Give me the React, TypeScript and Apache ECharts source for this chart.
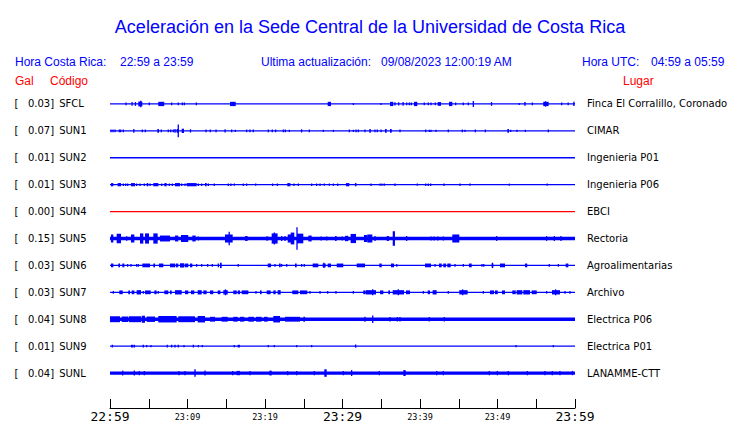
import React, { useEffect, useRef } from "react";
import * as echarts from "echarts";

// Station codes, peak acceleration (Gal) and site names
const codes = ["SFCL", "SUN1", "SUN2", "SUN3", "SUN4", "SUN5", "SUN6", "SUN7", "SUN8", "SUN9", "SUNL"];
const gal = ["0.03", "0.07", "0.01", "0.01", "0.00", "0.15", "0.03", "0.03", "0.04", "0.01", "0.04"];
const places = [
  "Finca El Corralillo, Coronado", "CIMAR", "Ingenieria P01", "Ingenieria P06", "EBCI", "Rectoria",
  "Agroalimentarias", "Archivo", "Electrica P06", "Electrica P01", "LANAMME-CTT",
];
// time ticks (minutes since 22:59)
const timeLabels = ["22:59", "23:04", "23:09", "23:14", "23:19", "23:24", "23:29", "23:34", "23:39", "23:44", "23:49", "23:54", "23:59"];
// background noise level per trace (trace units)
const noise = [0, 0, 0, 0, 0, 0.068, 0, 0, 0.062, 0, 0.062];

// Events: [start minute, end minute, half amplitude (trace units)]
const sfcl = [[2.06,2.06,.05],[2.8,2.9,.07],[3.23,3.33,.07],[3.65,4.17,.09],[3.97,3.97,.12],[5.07,5.07,.05],[6.23,7.0,.08],[7.96,7.96,.05],[8.81,8.81,.05],[9.33,9.33,.05],[9.59,9.59,.05],[11.14,11.14,.05],[15.48,16.22,.08],[28.09,28.52,.08],
[31.4,31.4,.04],[34.97,34.97,.04],[36.13,36.55,.08],[36.77,36.77,.06],[37.25,37.25,.06],[37.77,37.87,.07],[38.28,38.28,.05],[38.62,38.62,.05],[38.88,38.88,.05],[39.23,39.65,.08],[40.55,40.55,.05],[41.07,41.07,.05],[41.42,41.42,.05],[41.97,41.97,.05],[42.28,42.71,.07],[43.74,44.17,.08],[44.6,44.6,.05],[45.59,45.59,.05],[46.23,46.23,.05],[46.88,46.88,.11],[49.16,49.3,.07],[52.81,52.81,.04],[53.45,53.63,.07],[54.49,54.49,.05],[55.9,56.6,.08],[56.2,56.2,.1],[58.28,58.28,.05],[59.12,59.12,.05],[59.77,59.95,.08]];
const sun1 = [[0.13,0.13,.05],[0.39,0.39,.05],[0.65,0.65,.05],[1.2,1.2,.05],[1.38,1.38,.05],[1.72,1.72,.05],[3.0,3.15,.07],[4.17,4.17,.05],[4.56,4.56,.05],[6.11,6.32,.07],[6.62,6.62,.05],[7.52,7.52,.05],[7.83,7.83,.05],[8.17,8.17,.05],[8.39,8.39,.07],[8.6,8.9,.07],[8.81,8.81,.24],[9.25,9.55,.08],[10.32,10.45,.06],[12.39,12.39,.05],[12.94,12.94,.05],[13.68,13.68,.05],[14.8,14.9,.06],[15.7,15.7,.05],[16.17,16.17,.04],[17.63,17.63,.05],[18.06,18.06,.05],[18.49,18.49,.05],[20.43,20.43,.05],[20.94,20.94,.05],[21.38,21.38,.05],[22.37,22.37,.05],[22.62,22.62,.05],[23.14,23.14,.04],[24.65,24.8,.06],[25.72,25.72,.05],[27.52,27.52,.04],[28.82,28.82,.04],
[30.88,30.88,.05],[31.4,31.4,.04],[31.74,31.74,.05],[32.04,32.04,.05],[32.9,32.9,.05],[33.46,33.65,.07],[34.19,34.19,.05],[34.49,34.49,.05],[34.97,34.97,.05],[35.48,35.7,.07],[36.13,36.35,.07],[37.42,37.42,.05],[40.74,40.74,.05],[41.2,41.2,.04],[41.42,41.42,.04],[42.06,42.06,.04],[43.65,43.65,.05],[45.46,45.46,.05],[45.81,45.81,.04],[47.14,47.14,.05],[48.43,48.43,.05],[51.27,51.48,.07],[51.7,51.7,.04],[52.52,52.52,.04],[53.59,53.59,.04],[56.56,56.56,.05]];
const sun2: number[][] = [];
const sun3 = [[0.13,0.43,.06],[0.99,1.42,.06],[1.72,1.72,.045],[2.02,2.02,.045],[2.28,2.28,.045],[2.71,3.23,.06],[3.44,3.44,.045],[3.87,3.87,.045],[4.43,4.43,.045],[4.73,4.94,.06],[5.16,5.16,.045],[5.59,6.23,.06],[6.67,6.67,.045],[7.01,7.31,.06],[7.65,7.65,.045],[8.04,8.04,.045],[8.39,9.03,.06],[9.25,9.25,.045],[9.68,9.68,.045],[9.89,11.18,.06],[11.4,11.4,.045],[11.83,11.83,.045],[12.26,12.47,.06],[12.69,12.69,.045],[13.46,13.46,.045],[15.27,15.27,.045],[15.61,15.61,.045],[16.04,16.04,.04],[17.2,17.2,.045],[17.63,17.63,.045],[18.8,18.8,.04],[20.99,20.99,.045],[21.59,21.59,.045],[22.88,23.27,.06],[23.74,23.74,.045],[24.3,24.3,.045],[26.02,26.02,.045],[26.67,26.67,.045],[27.1,27.1,.045],[27.65,27.65,.04],[28.3,28.3,.04],[28.82,28.82,.045],[29.38,29.38,.045],
[30.45,30.88,.06],[31.6,31.8,.06],[33.68,33.68,.045],[34.84,34.84,.04],[35.1,35.1,.04],[35.39,35.39,.04],[36.77,36.77,.045],[39.65,39.65,.04],[40.74,40.74,.045],[41.07,41.07,.045],[41.38,41.38,.045],[43.1,43.1,.045],[45.16,45.16,.045],[46.45,46.45,.04],[51.53,51.53,.04],[56.41,56.41,.04]];
const sun4: number[][] = [];
const sun5 = [[0.13,0.43,.15],[0.86,1.42,.18],[2.15,2.15,.08],[2.71,3.14,.15],[3.87,4.3,.19],[4.52,5.03,.19],[5.59,6.15,.19],[6.45,7.74,.11],[8.39,8.81,.11],[9.16,10.1,.13],[10.62,11.06,.11],[11.4,11.4,.075],[14.84,15.83,.15],[15.38,15.38,.25],[17.42,17.77,.09],[20.13,20.43,.075],[20.86,21.63,.19],[21.2,21.2,.22],[22.15,22.15,.09],[22.58,22.58,.09],[22.93,23.45,.15],[23.32,23.78,.22],[24.13,24.13,.42],[24.13,24.94,.18],[25.59,26.02,.11],[27.23,27.23,.075],[27.96,27.96,.075],[29.03,29.25,.09],[29.97,29.97,.075],
[30.32,30.75,.1],[31.05,31.74,.17],[32.77,33.2,.13],[33.2,33.85,.15],[34.19,34.19,.09],[34.84,34.84,.055],[35.35,35.35,.055],[35.7,36.0,.09],[36.48,36.77,.27],[38.28,38.28,.09],[41.42,41.42,.075],[41.81,41.81,.075],[42.28,42.28,.075],[43.01,43.01,.075],[44.17,45.07,.15],[49.89,49.89,.09],[50.88,50.88,.055],[56.34,56.34,.09],[57.33,57.33,.09],[58.19,58.19,.09]];
const sun6 = [[0.13,0.43,.07],[1.07,1.29,.07],[1.59,1.85,.07],[2.28,2.28,.05],[2.71,2.71,.05],[3.44,3.44,.05],[3.66,3.66,.05],[4.17,5.16,.07],[5.59,5.81,.07],[6.32,6.88,.07],[7.74,8.39,.07],[8.48,8.81,.07],[9.03,9.59,.08],[9.68,10.1,.07],[10.32,10.62,.07],[11.18,11.18,.05],[11.83,11.83,.05],[12.6,12.6,.05],[13.2,13.2,.05],[13.9,14.06,.07],[14.19,14.41,.1],[16.55,16.55,.05],[20.35,20.77,.07],[21.29,21.29,.05],[21.81,22.02,.07],[22.15,22.15,.05],[22.8,22.8,.05],[23.87,24.09,.07],[24.73,24.73,.05],[25.07,25.07,.05],[26.15,26.88,.07],[27.44,27.83,.07],[27.6,27.6,.1],[28.09,28.52,.07],[29.25,30.1,.07],
[31.83,32.9,.07],[34.75,35.06,.07],[36.26,36.65,.07],[37.0,37.0,.05],[40.65,41.42,.07],[41.94,41.94,.05],[42.45,42.8,.07],[43.01,43.35,.07],[43.52,43.96,.07],[44.52,44.52,.05],[45.59,45.59,.05],[46.32,46.67,.07],[48.0,48.0,.05],[48.23,48.23,.05],[49.25,49.46,.07],[49.35,49.35,.1],[50.32,50.97,.07],[53.55,53.84,.07],[56.68,56.68,.05],[57.85,57.85,.05],[58.8,59.14,.07]];
const sun7 = [[0.43,0.43,.05],[1.2,1.64,.07],[2.36,2.58,.07],[2.8,3.14,.07],[3.44,4.0,.08],[4.3,4.3,.05],[4.52,5.25,.07],[5.72,6.02,.07],[6.23,6.23,.05],[7.01,7.52,.07],[7.74,7.96,.07],[8.39,9.25,.08],[9.68,10.1,.07],[10.45,10.88,.07],[11.31,11.83,.08],[12.04,12.47,.07],[12.9,13.33,.07],[13.9,14.24,.07],[14.62,15.19,.08],[14.9,14.9,.11],[15.91,16.35,.07],[16.48,16.77,.07],[16.99,17.85,.07],[18.84,18.84,.05],[19.35,19.57,.07],[20.22,20.73,.07],[21.07,21.38,.07],[21.63,22.02,.08],[23.52,24.3,.07],[24.52,25.46,.07],[25.81,25.81,.05],[27.1,27.1,.05],[28.09,28.09,.05],[29.16,29.16,.05],
[31.4,31.4,.05],[32.68,32.99,.07],[33.03,34.32,.08],[33.9,33.9,.11],[34.84,35.27,.07],[35.91,36.13,.07],[36.48,37.94,.08],[37.2,37.2,.11],[38.19,38.71,.07],[40.43,40.43,.05],[40.99,41.29,.07],[41.63,42.15,.08],[43.65,43.65,.05],[45.07,46.15,.08],[45.5,45.5,.11],[48.17,48.17,.05],[49.03,49.55,.07],[49.68,50.03,.07],[50.58,50.97,.07],[51.91,52.35,.07],[52.47,53.2,.08],[53.33,54.19,.08],[54.41,55.06,.07],[56.34,56.34,.05],[57.03,58.06,.08],[57.5,57.5,.11],[58.71,58.71,.05],[59.35,59.35,.05]];
const sun8 = [[0,1.29,.11],[1.51,2.36,.1],[2.45,4.0,.11],[4.09,4.52,.13],[4.73,5.81,.1],[6.23,8.6,.12],[8.81,10.97,.11],[11.31,12.26,.12],[12.9,13.55,.09],[14.41,15.19,.09],[15.91,16.48,.09],[16.77,17.33,.09],[17.85,18.58,.09],[18.84,19.57,.09],[19.87,20.35,.09],[21.07,21.94,.12],[22.58,24.52,.09],[24.95,25.16,.09],
[32.9,32.9,.09],[33.9,33.9,.14],[36.13,36.13,.08],[37.07,37.07,.08],[37.42,37.42,.08],[41.2,41.2,.08],[43.14,43.14,.08]];
const sun9 = [[0.3,0.3,.05],[2.71,3.0,.05],[3.14,3.14,.05],[4.3,4.3,.05],[4.73,4.73,.04],[5.29,5.29,.04],[7.39,7.39,.05],[7.96,7.96,.05],[8.39,8.39,.05],[8.81,8.81,.05],[9.55,9.55,.04],[10.75,10.75,.05],[11.4,11.4,.04],[11.91,11.91,.04],[16.04,16.04,.04],[16.47,16.77,.05],[20.43,20.43,.04],[21.2,21.2,.04],[24.09,24.09,.04],[26.02,26.02,.04],[31.7,31.7,.06],[52.4,52.4,.04],[57.2,57.2,.04]];
const sunl = [[1.63,1.63,.09],[3.14,3.14,.09],[3.78,3.78,.08],[4.43,4.43,.08],[8.9,8.9,.08],[9.68,9.68,.08],[10.88,11.06,.14],[12.26,12.26,.09],[15.83,15.83,.08],[16.34,16.77,.08],[18.06,18.06,.08],[20.56,20.86,.09],[22.93,22.93,.08],[24.09,24.09,.08],[26.36,26.36,.08],[27.65,27.96,.14],
[30.1,30.1,.08],[31.18,31.18,.11],[34.75,34.75,.08],[37.85,38.15,.11],[42.15,42.15,.08],[43.01,43.01,.08],[48.94,48.94,.08],[49.98,49.98,.08],[51.4,51.4,.08],[53.85,53.85,.08],[56.13,56.13,.08],[57.07,57.07,.08],[58.06,58.06,.08],[59.66,59.66,.08]];

const traces = [sfcl, sun1, sun2, sun3, sun4, sun5, sun6, sun7, sun8, sun9, sunl];

const BLUE = "#0000ff";
const RED = "#ff0000";
const HEAD_FONT = "'Liberation Sans', Arial, sans-serif";
const LABEL_FONT = "'DejaVu Sans', sans-serif";

export default function App() {
  const ref = useRef<HTMLDivElement>(null);
  useEffect(() => {
    if (!ref.current) return;
    const chart = echarts.init(ref.current, null, { renderer: "svg" });

    const series = traces.map((events, row) => ({
      type: "custom",
      coordinateSystem: "cartesian2d",
      xAxisIndex: 0,
      yAxisIndex: 2,
      silent: true,
      clip: false,
      data: [[0, 60, noise[row], row], ...events.map((e) => [e[0], e[1], e[2], row])],
      renderItem: (params: any, api: any) => {
        const s = api.value(0), e = api.value(1), a = api.value(2), r = api.value(3);
        const p1 = api.coord([s, r - a]);
        const p2 = api.coord([e, r + a]);
        let w = p2[0] - p1[0];
        let x = p1[0];
        if (w < 1.3) { x -= (1.3 - w) / 2; w = 1.3; }
        let h = Math.abs(p2[1] - p1[1]);
        let y = Math.min(p1[1], p2[1]);
        if (h < 1.3) { y -= (1.3 - h) / 2; h = 1.3; }
        return {
          type: "rect",
          shape: { x, y, width: w, height: h },
          style: { fill: row === 4 ? RED : BLUE },
        };
      },
    }));

    const option: any = {
      animation: false,
      backgroundColor: "#ffffff",
      title: {
        text: "Aceleración en la Sede Central de la Universidad de Costa Rica",
        left: "center",
        top: 12,
        textStyle: { fontFamily: HEAD_FONT, fontSize: 18, fontWeight: "normal", color: BLUE, lineHeight: 20 },
      },
      graphic: [
        { type: "text", left: 15, top: 56, style: { text: "Hora Costa Rica:", font: `12px ${HEAD_FONT}`, fill: BLUE } },
        { type: "text", left: 120, top: 56, style: { text: "22:59 a 23:59", font: `12px ${HEAD_FONT}`, fill: BLUE } },
        { type: "text", left: 261, top: 56, style: { text: "Ultima actualización:", font: `12px ${HEAD_FONT}`, fill: BLUE } },
        { type: "text", left: 381, top: 56, style: { text: "09/08/2023 12:00:19 AM", font: `12px ${HEAD_FONT}`, fill: BLUE } },
        { type: "text", left: 582, top: 56, style: { text: "Hora UTC:", font: `12px ${HEAD_FONT}`, fill: BLUE } },
        { type: "text", left: 651, top: 56, style: { text: "04:59 a 05:59", font: `12px ${HEAD_FONT}`, fill: BLUE } },
        { type: "text", left: 15, top: 75, style: { text: "Gal", font: `12px ${HEAD_FONT}`, fill: RED } },
        { type: "text", left: 50, top: 75, style: { text: "Código", font: `12px ${HEAD_FONT}`, fill: RED } },
        { type: "text", left: 623, top: 75, style: { text: "Lugar", font: `12px ${HEAD_FONT}`, fill: RED } },
      ],
      grid: { left: 110, top: 90.5, width: 465, height: 297, containLabel: false },
      xAxis: {
        type: "value",
        min: 0,
        max: 60,
        interval: 5,
        offset: 21.5,
        splitLine: { show: false },
        axisLine: { show: true, onZero: false, lineStyle: { color: "#000", width: 1 } },
        axisTick: { show: true, inside: true, length: 9, lineStyle: { color: "#000", width: 1 } },
        axisLabel: {
          show: true,
          showMinLabel: true,
          showMaxLabel: true,
          margin: 1.5,
          formatter: (v: number) => {
            const idx = Math.round(v / 5);
            if (idx % 2 === 1) return "";
            return idx % 6 === 0 ? `{big|${timeLabels[idx]}}` : `{small|${timeLabels[idx]}}`;
          },
          rich: {
            big: { fontFamily: "'DejaVu Sans Mono', monospace", fontSize: 13, lineHeight: 14, color: "#000" },
            small: { fontFamily: "'DejaVu Sans Mono', monospace", fontSize: 8.5, lineHeight: 14, color: "#000" },
          },
        },
      },
      yAxis: [
        {
          type: "category",
          data: codes,
          inverse: true,
          position: "left",
          axisLine: { show: false },
          axisTick: { show: false },
          splitLine: { show: false },
          axisLabel: {
            margin: 95.5,
            align: "left",
            formatter: (v: string, i: number) => `{a|[}{b|${gal[i]}]}{c|${v}}`,
            rich: {
              a: { width: 13.4, fontFamily: LABEL_FONT, fontSize: 10, color: "#000" },
              b: { width: 31.3, fontFamily: LABEL_FONT, fontSize: 10, color: "#000" },
              c: { fontFamily: LABEL_FONT, fontSize: 10, color: "#000" },
            },
          },
        },
        {
          type: "category",
          data: places,
          inverse: true,
          position: "right",
          axisLine: { show: false },
          axisTick: { show: false },
          splitLine: { show: false },
          axisLabel: { margin: 12, align: "left", fontFamily: LABEL_FONT, fontSize: 10, color: "#000" },
        },
        { type: "value", show: false, min: -0.5, max: 10.5, inverse: true, splitLine: { show: false } },
      ],
      series,
    };
    chart.setOption(option);
    return () => chart.dispose();
  }, []);
  return <div ref={ref} style={{ position: "fixed", left: 0, top: 0, width: 740, height: 423 }} />;
}
